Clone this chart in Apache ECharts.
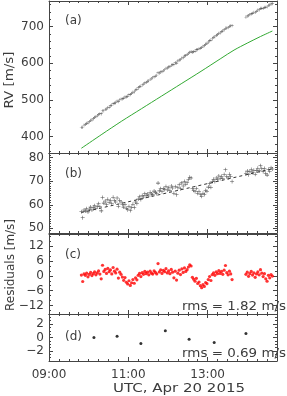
<!DOCTYPE html>
<html><head><meta charset="utf-8">
<script src="https://cdn.jsdelivr.net/npm/echarts@6/dist/echarts.min.js"></script>
<style>html,body{margin:0;padding:0;background:#fff}#c{width:287px;height:396px}</style>
</head><body><div id="c"></div>
<script>
// observation times, minutes after 09:00 UTC
const obsMin = [49,51,53,55,57,59,61,63,65,67,
69,71,73,75,77,79,81,83,85,87,
89,91,93,95,97,99,101,103,105,107,
109,111,113,115,117,119,121,123,125,127,
129,131,133,135,137,139,141,143,145,147,
149,151,153,155,157,159,161,163,165,167,
169,171,173,175,177,179,181,183,185,187,
189,191,193,195,197,199,201,203,205,207,
209,211,213,215,217,219,221,223,225,227,
229,231,233,235,237,239,241,243,245,247,
249,251,253,255,257,259,261,263,265,267,
269,271,273,275,277,
298,300,302,304,306,308,310,312,314,316,
318,320,322,324,326,328,330,332,334,336,338];
// panel (a) measured RV [m/s]
const rvA = [425,425,431,433,436,437,441,444,445,449,
452,454,457,460,462,462,470,470,474,475,
479,480,484,485,490,491,492,497,495,500,
502,503,504,508,508,510,514,514,518,521,
522,527,529,533,536,537,541,543,546,548,
551,552,556,558,560,563,565,567,574,573,
576,577,580,582,586,587,590,591,595,596,
596,602,600,606,609,610,614,615,620,621,
624,627,630,632,630,632,633,637,637,640,
641,643,646,648,652,654,658,662,663,668,
671,672,676,678,682,683,686,688,692,696,
696,697,701,702,703,
726,729,730,733,735,736,739,739,742,745,
746,750,750,750,753,753,754,758,759,762,763];
// panel (a) green model curve
const greenT = [49,80,110,140,170,200,230,260,280,300,320,338];
const greenV = [368,406,442,476,510,544,578,613,636,655,673,688];
// panel (b) RV minus model
const rvB = [57.0,54.5,57.8,57.3,58.3,56.9,58.1,59.0,57.8,58.8,
59.6,58.5,59.4,60.4,59.2,57.4,63.1,60.7,61.6,60.1,
62.3,61.1,61.9,60.5,63.2,61.8,61.2,62.9,59.4,61.9,
61.2,60.2,59.0,60.2,58.5,57.9,59.3,57.6,58.8,60.2,
58.8,61.2,60.5,62.4,63.4,62.2,63.9,63.3,64.7,63.9,
64.6,63.7,65.3,64.6,64.3,65.8,65.3,64.8,69.2,65.9,
66.8,65.5,66.9,66.5,67.8,66.3,67.2,66.2,68.0,67.1,
64.9,67.7,64.3,67.2,68.5,66.8,69.3,68.0,69.9,68.7,
69.5,70.7,71.7,71.4,66.9,66.2,65.6,66.9,64.9,65.6,
64.3,63.6,64.9,64.4,66.1,65.7,67.5,68.9,67.4,69.9,
70.8,69.9,71.4,70.8,72.2,71.2,72.1,71.1,72.9,74.9,
72.1,71.4,73.0,72.0,69.9,
73.3,74.3,72.8,74.0,75.0,73.7,74.7,73.0,74.5,75.5,
74.4,76.6,75.4,74.1,75.4,73.4,72.6,75.1,74.2,75.7,75.2];
// panel (b) linear fit (dashed)
const fitT = [49,338];
const fitV = [56.7,75.3];
// panel (c) residuals
const resC = [0.3,-2.3,0.8,0.2,1.1,-0.4,0.6,1.4,0.1,0.9,
1.6,0.4,1.2,2.0,0.7,-1.2,4.3,1.8,2.6,1.0,
3.0,1.7,2.4,0.8,3.4,1.9,1.2,2.7,-0.9,1.5,
0.6,-0.5,-1.8,-0.7,-2.6,-3.3,-2.0,-3.9,-2.8,-1.5,
-3.0,-0.8,-1.6,0.2,1.0,-0.3,1.3,0.6,1.8,0.9,
1.5,0.4,1.9,1.1,0.7,2.0,1.4,0.8,5.0,1.6,
2.4,1.0,2.2,1.7,2.9,1.2,2.0,0.9,2.6,1.5,
-0.8,1.9,-1.7,1.1,2.3,0.5,2.8,1.4,3.2,1.8,
2.5,3.6,4.5,4.0,-0.6,-1.4,-2.2,-1.0,-3.1,-2.5,
-4.0,-4.8,-3.6,-4.3,-2.7,-3.2,-1.5,-0.3,-1.9,0.5,
1.2,0.2,1.6,0.9,2.1,1.0,1.8,0.6,2.3,4.2,
1.3,0.4,1.9,0.8,-1.5,
0.6,1.5,-0.2,0.9,1.8,0.3,1.2,-0.6,0.8,1.6,
0.4,2.5,1.1,-0.3,0.9,-1.2,-2.2,0.2,-0.8,0.5,-0.1];
// panel (d) binned residuals
const binT = [68,103,139,176,212,250,298];
const binV = [0.0,0.2,-0.9,1.0,-0.25,-0.75,0.6];

// ticks
const xMajor = [0,120,240];
const xMajorLabels = ['09:00','11:00','13:00'];
const xMinor = [0,15,30,45,60,75,90,105,120,135,150,165,180,195,210,225,240,255,270,285,300,315,330,345];
const yMajorA = [400,500,600,700];
const yMinorA = [360,380,400,420,440,460,480,500,520,540,560,580,600,620,640,660,680,700,720,740,760];
const yMajorB = [50,60,70,80];
const yMinorB = [49,50,51,52,53,54,55,56,57,58,59,60,61,62,63,64,65,66,67,68,69,70,71,72,73,74,75,76,77,78,79,80,81];
const yMajorC = [-12,-6,0,6,12];
const yMinorC = [-14,-12,-10,-8,-6,-4,-2,0,2,4,6,8,10,12,14,16];
const yMajorD = [-2,0,2];
const yMinorD = [-3,-2.5,-2,-1.5,-1,-0.5,0,0.5,1,1.5,2,2.5,3];

const panelTags = ['(a)','(b)','(c)','(d)'];
const rmsLabels = ['rms = 1.82 m/s','rms = 0.69 m/s'];
const xTitle = 'UTC, Apr 20 2015';
const yTitleA = 'RV [m/s]';
const yTitleRes = 'Residuals [m/s]';

const FONT = 'DejaVu Sans';
const INK = '#3c3c3c';
const AXC = '#444';
const grids = [
  {left:49,right:10,top:1,height:152},
  {left:49,right:10,top:153,height:80},
  {left:49,right:10,top:234,height:80},
  {left:49,right:10,top:314,height:47}
];
const yRanges = [[355,770],[48,82],[-15.5,17],[-3.5,3.5]];
const yMaj = [yMajorA,yMajorB,yMajorC,yMajorD];
const yMin = [yMinorA,yMinorB,yMinorC,yMinorD];

function fmtNum(v){ return v < 0 ? '\u2212' + Math.abs(v) : String(v); }

const xAxis = [], yAxis = [];
for (let g = 0; g < 4; g++) {
  const mkX = (pos, major, lab) => ({
    type:'value', gridIndex:g, min:0, max:345, position:pos,
    splitLine:{show:false},
    axisLine:{show:major, onZero:false, lineStyle:{color:AXC, width:1}},
    axisTick:{show:true, inside:true, length:major?4:2, customValues:major?xMajor:xMinor, lineStyle:{color:AXC, width:1}},
    axisLabel: lab ? {show:true, customValues:xMajor, formatter:v => xMajorLabels[xMajor.indexOf(v)],
      fontFamily:FONT, fontSize:12, color:INK, margin:8} : {show:false}
  });
  xAxis.push(mkX('bottom',true,g===3), mkX('bottom',false,false), mkX('top',true,false), mkX('top',false,false));
  const mkY = (pos, major, lab) => ({
    type:'value', gridIndex:g, min:yRanges[g][0], max:yRanges[g][1], position:pos,
    splitLine:{show:false},
    axisLine:{show:major, onZero:false, lineStyle:{color:AXC, width:1}},
    axisTick:{show:true, inside:true, length:major?4:2, customValues:major?yMaj[g]:yMin[g], lineStyle:{color:AXC, width:1}},
    axisLabel: lab ? {show:true, customValues:yMaj[g], formatter:fmtNum,
      fontFamily:FONT, fontSize:12, color:INK, margin:5} : {show:false}
  });
  yAxis.push(mkY('left',true,true), mkY('left',false,false), mkY('right',true,false), mkY('right',false,false));
}

const plusSym = 'path://M-0.13,-1H0.13V-0.13H1V0.13H0.13V1H-0.13V0.13H-1V-0.13H-0.13Z';
const pairs = (xs, ys) => xs.map((x,i) => [x, ys[i]]);

const series = [
  {type:'scatter', xAxisIndex:0, yAxisIndex:0, data:pairs(obsMin,rvA), symbol:plusSym, symbolSize:3.2, itemStyle:{color:'#333'}, silent:true},
  {type:'line', xAxisIndex:0, yAxisIndex:0, data:pairs(greenT,greenV), smooth:0.3, showSymbol:false, lineStyle:{color:'#33aa33', width:1}, silent:true},
  {type:'scatter', xAxisIndex:4, yAxisIndex:4, data:pairs(obsMin,rvB), symbol:plusSym, symbolSize:4, itemStyle:{color:'#222'}, silent:true},
  {type:'line', xAxisIndex:4, yAxisIndex:4, data:pairs(fitT,fitV), showSymbol:false, lineStyle:{color:'#333', width:1, type:[3,3]}, silent:true},
  {type:'scatter', xAxisIndex:8, yAxisIndex:8, data:pairs(obsMin,resC), symbol:'circle', symbolSize:3.2, itemStyle:{color:'#ff0000'}, silent:true},
  {type:'scatter', xAxisIndex:12, yAxisIndex:12, data:pairs(binT,binV), symbol:'circle', symbolSize:3, itemStyle:{color:'#000'}, silent:true}
];

const txt = (text, x, y, extra, style) => Object.assign({type:'text', x, y, silent:true,
  style:Object.assign({text, fontFamily:FONT, fontSize:12, fill:INK, align:'left', verticalAlign:'middle'}, style||{})}, extra||{});

const graphic = [
  txt(panelTags[0], 65, 21),
  txt(panelTags[1], 65, 174),
  txt(panelTags[2], 65, 255),
  txt(panelTags[3], 65, 337),
  txt(rmsLabels[0], 182, 307, {scaleX:1.12}),
  txt(rmsLabels[1], 182, 354, {scaleX:1.12}),
  txt(xTitle, 179, 389, {scaleX:1.25}, {align:'center'}),
  txt(yTitleA, 10, 80, {rotation:Math.PI/2, scaleX:1.12}, {align:'center'}),
  txt(yTitleRes, 11, 265, {rotation:Math.PI/2}, {align:'center'})
];

const chart = echarts.init(document.getElementById('c'), null, {renderer:'canvas'});
chart.setOption({animation:false, backgroundColor:'#fff', grid:grids, xAxis, yAxis, series, graphic});
</script>
</body></html>
